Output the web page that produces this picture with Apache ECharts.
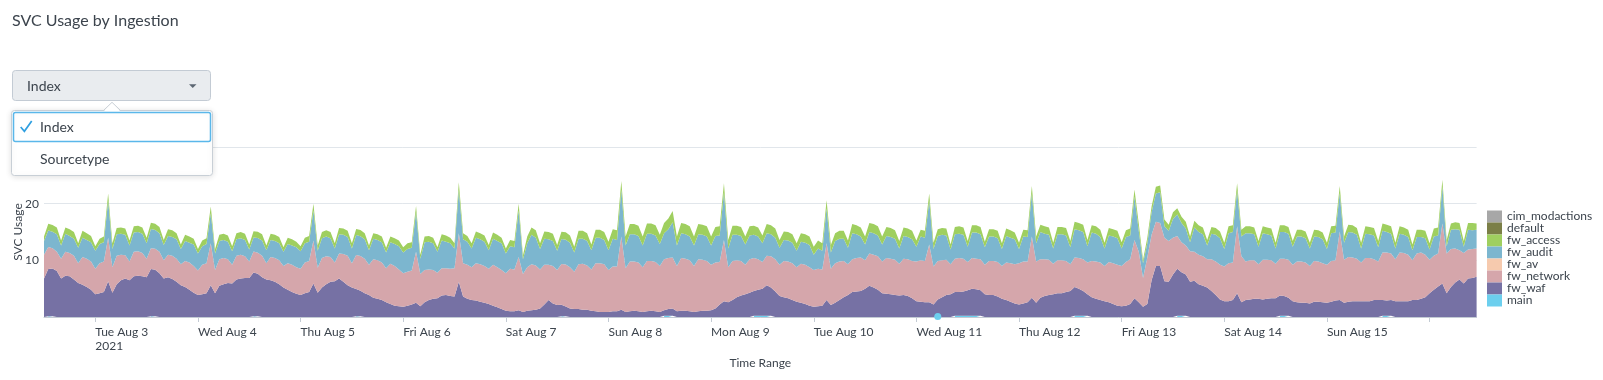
<!DOCTYPE html>
<html>
<head>
<meta charset="utf-8">
<script src="https://cdn.jsdelivr.net/npm/echarts@6/dist/echarts.min.js"></script>
<style>
html,body{margin:0;padding:0;background:#fff;}
#chart{width:1603px;height:380px;}
</style>
</head>
<body>
<div id="chart"></div>
<script>
// ---- Data (hourly, 2021-08-02 12:00 .. 2021-08-16 11:00) ----
const pad = n => (n < 10 ? '0' : '') + n;
const startUTC = Date.UTC(2021, 7, 2, 12);
const categories = [];
for (let i = 0; i < 336; i++) {
  const d = new Date(startUTC + i * 3600e3);
  categories.push(d.getUTCFullYear() + '-' + pad(d.getUTCMonth() + 1) + '-' + pad(d.getUTCDate()) + ' ' + pad(d.getUTCHours()) + ':00');
}

const dayTickLabels = {
  '2021-08-03 00:00': 'Tue Aug 3\n2021',
  '2021-08-04 00:00': 'Wed Aug 4',
  '2021-08-05 00:00': 'Thu Aug 5',
  '2021-08-06 00:00': 'Fri Aug 6',
  '2021-08-07 00:00': 'Sat Aug 7',
  '2021-08-08 00:00': 'Sun Aug 8',
  '2021-08-09 00:00': 'Mon Aug 9',
  '2021-08-10 00:00': 'Tue Aug 10',
  '2021-08-11 00:00': 'Wed Aug 11',
  '2021-08-12 00:00': 'Thu Aug 12',
  '2021-08-13 00:00': 'Fri Aug 13',
  '2021-08-14 00:00': 'Sat Aug 14',
  '2021-08-15 00:00': 'Sun Aug 15',
  '2021-08-16 00:00': ''
};

const fwWaf = [
  6.8,8.3,8.4,8.1,6.8,7.3,7.2,6.6,6.0,5.7,5.3,4.8,
  4.0,4.2,4.4,6.3,4.3,5.8,6.5,6.8,6.5,7.2,7.3,7.2,7.0,8.3,8.2,7.7,6.8,7.0,6.7,6.2,5.6,5.3,4.8,4.3,
  3.9,4.0,4.2,5.6,4.2,5.5,5.8,6.0,5.9,6.6,6.8,6.9,6.9,7.7,7.5,7.0,6.6,6.5,6.2,5.8,5.2,4.8,4.4,4.1,
  3.9,4.2,4.4,5.9,4.3,5.2,5.8,6.2,6.3,6.8,6.2,5.6,5.2,4.8,4.5,4.2,3.9,3.4,3.2,3.0,2.6,2.3,2.0,1.9,
  1.8,2.0,2.2,2.5,1.9,2.6,3.0,3.2,3.3,3.8,3.9,3.7,3.6,6.2,3.6,3.2,3.0,2.9,2.7,2.5,2.3,2.0,1.7,1.4,
  1.1,1.0,1.0,1.2,0.9,1.1,1.2,1.3,1.5,2.2,3.0,2.4,2.1,2.0,1.7,1.5,1.4,1.4,1.3,1.3,1.1,1.0,0.9,0.9,
  0.9,1.0,1.0,1.3,0.9,1.0,1.1,1.0,0.9,1.0,1.1,1.0,0.9,1.0,1.2,1.3,1.0,1.1,1.1,1.0,0.9,1.0,1.1,1.1,
  1.2,1.5,2.2,2.8,2.6,3.0,3.5,3.8,4.0,4.3,4.4,4.6,4.8,5.4,5.0,4.5,3.7,3.5,3.3,3.0,2.7,2.5,2.3,2.0,
  1.8,1.9,2.0,3.0,2.1,2.5,3.0,3.5,3.9,4.4,4.5,4.6,5.0,5.5,5.2,4.8,4.2,4.1,4.0,3.9,3.8,3.9,3.7,3.3,
  2.8,2.7,2.6,2.6,2.2,3.0,3.5,3.9,4.0,4.2,4.2,4.3,4.5,4.8,4.7,4.5,4.0,3.9,3.9,3.6,3.2,3.0,2.7,2.4,
  2.2,2.4,2.6,3.4,2.5,3.4,3.7,3.9,4.0,4.2,4.2,4.4,4.6,5.1,4.8,4.4,3.8,3.5,3.2,3.0,2.8,2.6,2.3,2.0,
  1.9,2.0,2.3,3.3,2.6,1.8,2.3,6.5,9.0,9.0,6.3,6.2,7.5,8.3,7.7,7.3,6.2,6.4,5.8,5.5,5.2,4.6,3.9,3.1,
  2.8,2.8,3.0,4.2,2.6,3.0,3.1,3.2,3.2,3.1,3.2,3.3,3.3,3.6,3.5,3.2,2.8,2.6,2.5,2.5,2.4,2.7,2.7,2.6,
  2.5,2.7,2.9,3.0,2.5,2.7,2.8,2.8,2.8,2.8,2.8,3.0,3.0,2.8,2.7,2.8,2.8,2.8,2.8,2.8,3.0,3.0,3.2,3.5,
  4.2,4.8,5.4,5.9,4.2,5.3,6.1,6.6,5.9,6.8,6.9,7.1
];

const fwNetwork = [
  4.2,3.9,3.6,3.4,3.5,4.2,4.1,4.2,3.5,4.9,5.0,5.0,
  4.5,5.3,5.4,7.7,4.5,5.0,4.5,4.1,3.3,4.3,4.3,4.1,3.3,3.7,3.7,3.8,3.2,4.0,4.1,4.1,3.7,4.6,4.8,4.7,
  4.3,5.2,5.3,7.4,4.1,4.7,4.6,4.2,3.3,4.2,4.2,3.8,2.9,3.7,3.7,3.8,2.9,4.1,4.2,4.2,3.8,4.7,4.8,4.7,
  4.6,5.4,5.5,7.6,4.4,5.2,4.9,4.4,3.3,4.4,4.9,5.2,4.3,6.0,6.1,6.1,5.3,6.8,6.8,6.6,6.0,7.1,7.0,6.5,
  5.9,6.0,6.0,9.0,5.7,5.7,5.4,5.1,4.5,4.8,4.7,4.8,5.0,8.6,5.9,6.0,5.8,6.6,6.6,6.5,6.2,7.2,7.1,6.9,
  6.6,7.5,7.4,9.4,6.7,7.7,8.1,7.8,6.9,7.0,6.2,6.6,6.2,7.2,7.4,7.3,6.6,7.9,8.1,7.8,7.3,8.5,8.6,8.4,
  7.4,7.9,7.9,12.9,7.7,8.8,8.7,8.6,7.9,8.9,8.8,8.7,8.1,9.0,9.0,9.0,8.0,9.3,9.2,9.0,8.1,9.2,9.0,8.8,
  8.0,8.1,7.5,10.8,6.2,6.9,6.5,6.1,5.2,5.9,5.8,5.4,4.7,5.2,5.5,5.7,5.5,6.4,6.5,6.5,6.1,6.9,6.9,6.8,
  6.5,6.6,6.4,10.0,6.4,7.0,6.8,6.4,5.4,5.8,5.9,5.9,5.0,5.7,5.8,5.9,5.6,6.3,6.3,6.2,5.6,6.4,6.5,6.6,
  7.0,7.3,7.3,10.2,6.7,6.8,6.5,6.2,5.3,5.9,6.0,5.8,5.0,5.4,5.4,5.5,5.2,6.0,6.0,6.1,5.8,6.6,6.8,6.9,
  7.3,7.4,7.2,10.8,7.3,6.8,6.5,6.2,5.4,5.8,5.8,5.5,4.7,5.2,5.4,5.6,5.6,6.4,6.6,6.6,6.2,7.1,7.2,7.2,
  7.1,7.7,7.9,10.3,8.9,5.1,8.2,8.0,7.8,7.6,7.7,7.2,6.5,5.8,5.3,5.1,5.4,5.1,5.2,5.2,5.0,5.6,5.9,6.1,
  6.1,6.7,6.6,11.8,8.1,6.8,6.9,6.8,6.1,7.0,6.9,6.7,6.1,6.5,6.6,6.7,6.4,7.2,7.3,7.1,6.6,7.2,7.1,6.9,
  6.7,7.2,7.1,12.1,7.6,7.9,7.7,7.5,6.8,7.6,7.6,7.2,6.8,8.4,8.5,8.2,7.4,8.6,8.5,8.2,7.0,8.2,8.2,7.5,
  5.9,6.0,5.8,10.6,7.0,6.7,6.0,5.2,5.4,5.1,5.1,5.0
];

const fwAudit = [
  2.4,2.9,2.9,3.1,2.3,3.2,3.0,3.0,2.7,3.4,3.3,3.4,
  3.2,3.4,3.4,6.5,3.2,3.8,3.7,3.6,2.8,3.4,3.4,3.4,2.7,3.4,3.3,3.3,2.7,3.3,3.3,3.4,2.7,3.5,3.5,3.8,
  3.0,3.3,3.4,5.3,2.9,3.2,3.2,3.1,2.4,2.9,2.9,2.9,2.1,2.5,2.6,2.7,2.3,3.0,3.0,3.0,2.5,3.4,3.4,3.5,
  3.1,3.4,3.4,5.3,3.0,3.5,3.5,3.3,2.5,3.4,3.4,3.3,2.6,3.5,3.5,3.4,2.6,3.6,3.6,3.6,2.8,3.8,3.9,4.1,
  3.7,4.0,4.0,7.0,2.7,4.9,4.9,4.7,3.7,4.9,4.7,4.5,3.5,7.6,4.2,4.1,3.3,4.5,4.4,4.3,3.3,4.6,4.6,4.7,
  3.5,4.0,3.9,8.2,2.6,4.2,5.2,4.9,3.6,4.6,4.5,4.4,3.4,4.4,4.4,4.3,3.4,4.5,4.4,4.3,3.4,4.5,4.5,4.3,
  3.5,4.9,4.7,8.3,4.0,4.8,4.8,4.7,3.8,4.8,4.8,4.7,3.9,4.6,5.1,6.2,3.6,4.4,4.3,4.2,3.6,4.4,4.4,4.3,
  3.4,4.7,4.7,8.4,3.3,4.6,4.5,4.4,3.6,4.2,4.1,4.0,3.3,4.0,3.9,3.8,3.0,3.7,3.7,3.6,2.9,3.9,3.9,3.9,
  2.7,3.6,3.3,6.2,2.9,3.9,4.0,3.9,2.9,4.6,4.2,3.7,2.8,3.8,3.8,3.7,3.0,3.9,3.8,3.7,2.7,4.0,3.9,3.8,
  2.6,4.2,4.1,7.7,3.1,4.4,4.5,4.3,2.6,4.3,4.3,4.2,2.7,4.5,4.6,4.4,3.1,4.3,4.3,4.2,3.0,4.7,4.5,4.4,
  2.5,4.4,4.3,7.6,3.2,4.8,4.5,4.4,2.7,4.6,4.6,4.5,3.0,5.0,4.9,4.8,2.9,5.0,4.9,4.5,3.1,4.7,4.7,4.7,
  3.1,4.4,4.2,7.6,3.7,2.6,2.5,4.0,5.0,5.4,2.0,1.8,3.3,3.8,3.4,3.0,1.6,4.3,4.0,3.9,2.4,4.5,4.7,4.7,
  3.1,5.3,5.4,6.3,3.5,5.0,4.8,4.6,3.1,4.7,4.5,4.4,2.7,4.7,4.7,4.6,3.2,4.4,4.4,4.3,3.1,4.3,4.3,4.2,
  2.8,4.9,4.9,6.8,3.0,4.4,4.4,4.2,2.5,4.3,4.2,4.2,2.5,3.8,3.6,3.5,1.9,3.3,3.2,3.1,1.8,2.9,2.7,2.9,
  1.8,3.4,3.2,6.5,1.3,3.4,3.4,3.6,1.1,3.5,3.3,3.3
];

const fwAccess = [
  0.8,1.2,1.2,1.2,0.9,1.1,1.2,1.2,0.8,1.2,1.2,1.1,
  0.8,0.9,1.0,1.3,1.0,1.1,1.1,1.1,0.9,1.1,1.1,1.1,1.0,1.1,1.1,1.1,0.9,1.2,1.2,1.1,0.8,1.1,1.1,1.0,
  0.8,1.0,1.0,1.2,0.8,1.1,1.1,1.1,0.9,1.1,1.1,1.1,0.9,1.1,1.1,1.1,0.8,1.1,1.1,1.1,0.8,1.1,1.1,1.0,
  0.9,1.0,1.0,1.2,0.9,1.1,1.1,1.1,0.9,1.1,1.1,1.1,0.9,1.1,1.1,1.1,0.8,1.0,1.0,1.0,0.8,1.0,1.0,1.0,
  0.9,1.0,1.0,1.1,0.7,1.0,1.0,1.0,0.8,1.1,1.1,1.0,0.9,1.4,1.1,1.0,0.9,1.1,1.1,1.1,0.9,1.1,1.1,1.0,
  0.9,1.1,1.1,1.2,0.7,1.2,1.3,1.3,1.0,1.3,1.3,1.3,1.0,1.3,1.3,1.3,1.0,1.4,1.4,1.4,1.0,1.4,1.4,1.4,
  1.5,1.7,1.7,1.5,1.6,1.8,1.8,1.8,1.6,1.8,1.8,1.8,1.6,1.8,1.9,2.0,1.6,1.8,1.8,1.8,1.6,1.8,1.8,1.8,
  1.6,1.6,1.6,1.6,1.5,1.6,1.6,1.6,1.4,1.6,1.6,1.6,1.4,1.6,1.6,1.6,1.4,1.5,1.5,1.5,1.3,1.5,1.5,1.5,
  1.4,1.4,1.3,1.4,1.3,1.4,1.4,1.4,1.3,1.6,1.6,1.6,1.4,1.6,1.6,1.6,1.4,1.6,1.6,1.5,1.3,1.5,1.5,1.5,
  1.1,1.2,1.2,1.3,1.1,1.2,1.2,1.2,0.9,1.3,1.3,1.3,1.0,1.3,1.3,1.3,1.0,1.3,1.3,1.3,1.0,1.3,1.3,1.2,
  1.1,1.2,1.2,1.3,1.2,1.3,1.3,1.3,1.0,1.3,1.3,1.3,1.1,1.3,1.3,1.3,1.1,1.3,1.3,1.3,1.0,1.3,1.3,1.3,
  1.1,1.2,1.2,1.3,1.3,0.6,1.0,1.0,1.2,1.2,1.2,1.1,1.2,1.1,1.1,1.2,1.0,1.2,1.2,1.2,1.0,1.2,1.2,1.2,
  1.1,1.2,1.2,1.3,1.2,1.2,1.2,1.2,1.0,1.2,1.2,1.2,1.0,1.2,1.2,1.2,1.0,1.2,1.2,1.2,1.0,1.2,1.2,1.2,
  1.1,1.2,1.2,1.2,1.1,1.3,1.3,1.2,1.0,1.3,1.3,1.3,1.1,1.3,1.3,1.3,1.0,1.3,1.3,1.3,1.0,1.3,1.3,1.3,
  1.1,1.4,1.4,1.2,1.1,1.1,1.2,1.2,1.0,1.2,1.3,1.1
];

// "main" only reports small values at a few hours (other hours are empty)
const mainValues = {
  '2021-08-02 13:00': 0.15, '2021-08-02 14:00': 0.15,
  '2021-08-03 13:00': 0.15, '2021-08-03 14:00': 0.15,
  '2021-08-04 13:00': 0.15, '2021-08-04 14:00': 0.15,
  '2021-08-05 13:00': 0.15, '2021-08-05 14:00': 0.15,
  '2021-08-07 13:00': 0.15, '2021-08-07 14:00': 0.15,
  '2021-08-08 13:00': 0.2, '2021-08-08 14:00': 0.2, '2021-08-08 15:00': 0.2,
  '2021-08-09 10:00': 0.2, '2021-08-09 11:00': 0.2, '2021-08-09 12:00': 0.2, '2021-08-09 13:00': 0.2, '2021-08-09 14:00': 0.2,
  '2021-08-11 05:00': 0.1,
  '2021-08-11 09:00': 0.2, '2021-08-11 10:00': 0.2, '2021-08-11 11:00': 0.2, '2021-08-11 12:00': 0.2, '2021-08-11 13:00': 0.2, '2021-08-11 14:00': 0.2, '2021-08-11 15:00': 0.2,
  '2021-08-12 13:00': 0.2, '2021-08-12 14:00': 0.2, '2021-08-12 15:00': 0.2, '2021-08-12 16:00': 0.2,
  '2021-08-13 13:00': 0.2, '2021-08-13 14:00': 0.2, '2021-08-13 15:00': 0.2,
  '2021-08-14 13:00': 0.2, '2021-08-14 14:00': 0.2, '2021-08-14 15:00': 0.2,
  '2021-08-15 13:00': 0.2, '2021-08-15 14:00': 0.2, '2021-08-15 15:00': 0.2
};
const fwAv = [];
const defaultIdx = [];
const cimModactions = [];

const seriesNames = ['cim_modactions', 'default', 'fw_access', 'fw_audit', 'fw_av', 'fw_network', 'fw_waf', 'main'];
const seriesColors = {
  cim_modactions: '#a7a7a7', default: '#7b7f47', fw_access: '#9fcf5f', fw_audit: '#7cb6cf',
  fw_av: '#f6caae', fw_network: '#d5a6ab', fw_waf: '#7671a4', main: '#6ccfee'
};

// ---- Build ----
const mainData = categories.map((c, i) => {
  if (!(c in mainValues)) return null;
  const isolated = !(categories[i - 1] in mainValues) && !(categories[i + 1] in mainValues);
  return isolated ? { value: mainValues[c], symbol: 'circle', symbolSize: 7 } : mainValues[c];
});

const stackOrder = [
  ['main', mainData], ['fw_waf', fwWaf], ['fw_network', fwNetwork], ['fw_av', fwAv],
  ['fw_audit', fwAudit], ['fw_access', fwAccess], ['default', defaultIdx], ['cim_modactions', cimModactions]
];

const FONT = 'Lato, "Open Sans", sans-serif';
const TXT = '#3c444d';

const series = stackOrder.map(([name, data]) => ({
  name, type: 'line', stack: 'total', data,
  symbol: 'none', showSymbol: true, showAllSymbol: true,
  lineStyle: { width: 0 },
  areaStyle: { color: seriesColors[name], opacity: 1 },
  itemStyle: { color: seriesColors[name] },
  emphasis: { disabled: true },
  silent: true,
  connectNulls: false
}));

const chart = echarts.init(document.getElementById('chart'), null, { renderer: 'canvas' });
chart.setOption({
  animation: false,
  backgroundColor: '#fff',
  textStyle: { fontFamily: FONT },
  title: {
    text: 'SVC Usage by Ingestion', left: 12, top: 13, padding: 0,
    textStyle: { fontFamily: FONT, fontSize: 16, fontWeight: 'normal', color: TXT }
  },
  grid: { left: 44, top: 147, width: 1432.6, height: 170, containLabel: false, outerBoundsMode: 'none' },
  legend: {
    data: seriesNames, orient: 'vertical', left: 1487, top: 210.5,
    itemWidth: 15, itemHeight: 12, itemGap: 0, padding: 0, icon: 'rect',
    selectedMode: false,
    textStyle: { fontFamily: FONT, fontSize: 12, color: TXT, lineHeight: 12, padding: [0, 0, 0, 0] }
  },
  xAxis: {
    type: 'category', data: categories, boundaryGap: false,
    name: 'Time Range', nameLocation: 'middle', nameGap: 40, nameMoveOverlap: false,
    nameTextStyle: { fontFamily: FONT, fontSize: 12, color: TXT },
    axisLine: { lineStyle: { color: '#c3cbd4' } },
    axisTick: { length: 5, lineStyle: { color: '#c3cbd4' }, interval: (i, v) => v in dayTickLabels },
    axisLabel: {
      interval: (i, v) => !!dayTickLabels[v],
      formatter: v => dayTickLabels[v] || '',
      align: 'left', margin: 8, lineHeight: 14,
      fontFamily: FONT, fontSize: 12, color: TXT
    },
    splitLine: { show: false }
  },
  yAxis: {
    type: 'value', min: 0, max: 30, interval: 10,
    name: 'SVC Usage', nameLocation: 'middle', nameGap: 19.5, nameMoveOverlap: false,
    nameTextStyle: { fontFamily: FONT, fontSize: 12, color: TXT },
    axisLine: { show: false }, axisTick: { show: false },
    axisLabel: { showMinLabel: false, margin: 5, fontFamily: FONT, fontSize: 12, color: TXT },
    splitLine: { lineStyle: { color: '#e1e6eb' } }
  },
  series,
  graphic: [
    { type: 'rect', z: 100, shape: { x: 12.5, y: 70.5, width: 198, height: 30, r: 3 },
      style: { fill: '#e9ecef', stroke: '#c3cbd4', lineWidth: 1 } },
    { type: 'text', z: 101, x: 27, y: 86,
      style: { text: 'Index', font: '14px ' + FONT, fill: TXT, verticalAlign: 'middle' } },
    { type: 'polygon', z: 101, shape: { points: [[189, 84.3], [196.5, 84.3], [192.75, 88]] },
      style: { fill: '#5c6773' } },
    { type: 'rect', z: 100, shape: { x: 11.5, y: 110.5, width: 201, height: 65, r: 3 },
      style: { fill: '#ffffff', stroke: '#c8cfd6', lineWidth: 1, shadowBlur: 6, shadowColor: 'rgba(0,0,0,0.12)', shadowOffsetY: 1 } },
    { type: 'polygon', z: 102, shape: { points: [[103.5, 111.6], [112, 102.8], [120.5, 111.6]] },
      style: { fill: '#ffffff' } },
    { type: 'polyline', z: 103, shape: { points: [[103.5, 110.5], [112, 102.3], [120.5, 110.5]] },
      style: { stroke: '#c8cfd6', lineWidth: 1, fill: null } },
    { type: 'rect', z: 103, shape: { x: 13.5, y: 112.5, width: 197, height: 29, r: 2 },
      style: { fill: 'rgba(255,255,255,0)', stroke: '#5ab7ea', lineWidth: 1.5 } },
    { type: 'polyline', z: 104, shape: { points: [[20.7, 127], [24.4, 131.3], [31.7, 121]] },
      style: { stroke: '#2f9fe0', lineWidth: 1.7, fill: null } },
    { type: 'text', z: 104, x: 40, y: 127,
      style: { text: 'Index', font: '14px ' + FONT, fill: TXT, verticalAlign: 'middle' } },
    { type: 'text', z: 104, x: 40, y: 159,
      style: { text: 'Sourcetype', font: '14px ' + FONT, fill: TXT, verticalAlign: 'middle' } }
  ]
});
</script>
</body>
</html>
